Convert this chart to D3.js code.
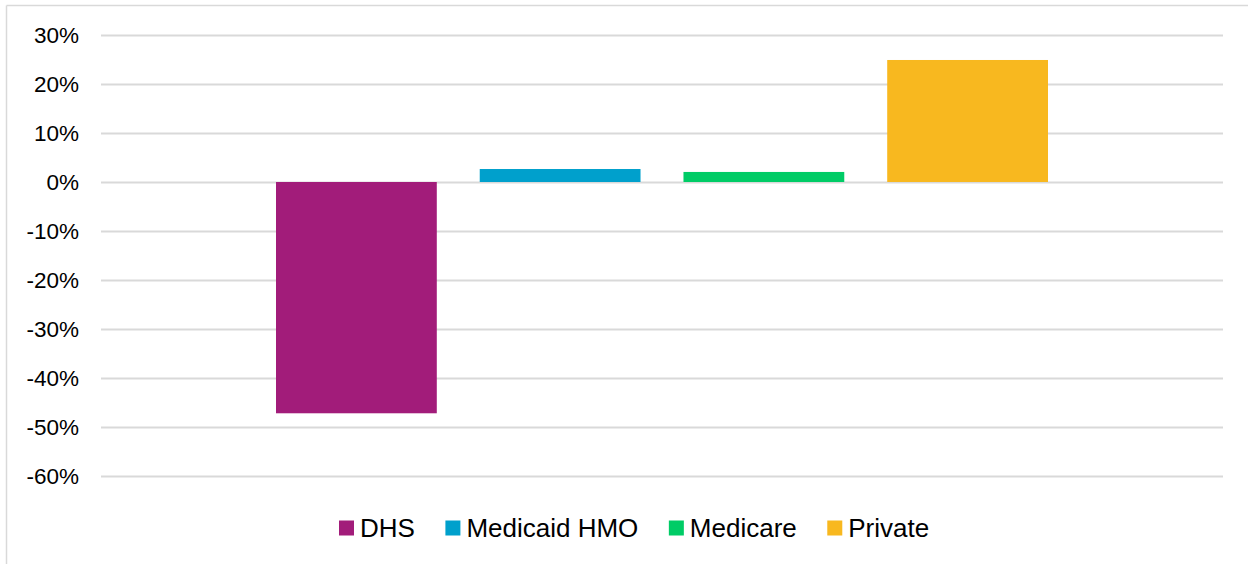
<!DOCTYPE html>
<html><head><meta charset="utf-8">
<script src="https://cdn.jsdelivr.net/npm/d3@7"></script>
<style>body{margin:0;background:#fff;}svg{display:block;font-family:"Liberation Sans",Arial,sans-serif;}</style>
</head><body><svg id="c" width="1248" height="564"></svg>
<script>
const series = ["DHS", "Medicaid HMO", "Medicare", "Private"];
const values = [-0.472, 0.0265, 0.0205, 0.249];
const colors = ["#A21C7A", "#00A0CC", "#00CC66", "#F8B81F"];
const yTicks = [0.3, 0.2, 0.1, 0, -0.1, -0.2, -0.3, -0.4, -0.5, -0.6];

const svg = d3.select("#c");
const W = 1248, H = 564;
const m = {left: 101, right: 25, top: 35, plotBottom: 476};

// frame
svg.append("line").attr("x1", 6.5).attr("x2", W).attr("y1", 5.5).attr("y2", 5.5).attr("stroke", "#d9d9d9").attr("stroke-width", 1.5);
svg.append("line").attr("x1", 6.5).attr("x2", 6.5).attr("y1", 5.5).attr("y2", H).attr("stroke", "#d9d9d9").attr("stroke-width", 1.5);

const y = d3.scaleLinear().domain([-0.6, 0.3]).range([m.plotBottom, m.top]);
const x = d3.scaleBand().domain(series).range([276, 1048]).paddingInner(43/204).paddingOuter(0);

const yAxis = d3.axisLeft(y).tickValues(yTicks).tickFormat(d => Math.round(d * 100) + "%").tickSize(-(W - m.right - m.left)).tickPadding(22);
const g = svg.append("g").attr("transform", `translate(${m.left},0)`).call(yAxis);
g.select(".domain").remove();
g.selectAll(".tick line").attr("stroke", "#d9d9d9").attr("stroke-width", 2);
g.selectAll(".tick text").attr("fill", "#000").attr("font-size", 22.5).attr("font-family", "Liberation Sans, Arial, sans-serif").attr("dy", "0.35em");

svg.append("g").selectAll("rect").data(series).join("rect")
  .attr("x", d => x(d))
  .attr("width", x.bandwidth())
  .attr("y", (d, i) => y(Math.max(0, values[i])))
  .attr("height", (d, i) => Math.abs(y(values[i]) - y(0)))
  .attr("fill", (d, i) => colors[i]);

// legend
const lg = svg.append("g");
const items = lg.selectAll("g").data(series).join("g");
items.append("rect").attr("width", 15).attr("height", 15).attr("y", -7.5).attr("fill", (d, i) => colors[i]);
items.append("text").attr("x", 21).attr("dy", "0.36em").attr("font-size", 26).attr("fill", "#000").text(d => d);
let xo = 0;
items.each(function() {
  const w = this.querySelector("text").getComputedTextLength();
  d3.select(this).attr("transform", `translate(${xo},0)`);
  xo += 21 + w + 30.5;
});
lg.attr("transform", `translate(${339},528)`);
</script></body></html>
